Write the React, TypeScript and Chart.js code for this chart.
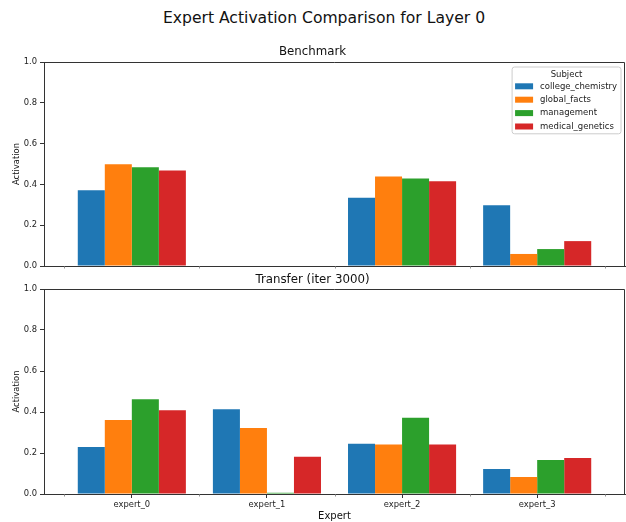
import React, { useEffect, useRef } from "react";
import { Chart, registerables } from "chart.js";

Chart.register(...registerables);

const experts = ["expert_0", "expert_1", "expert_2", "expert_3"];
const subjects = ["college_chemistry", "global_facts", "management", "medical_genetics"];
const subjectColors = ["#1f77b4", "#ff7f0e", "#2ca02c", "#d62728"];

// Benchmark activations, one array per subject (index = expert)
const benchCollegeChemistry = [0.371, 0.0, 0.335, 0.298];
const benchGlobalFacts = [0.499, 0.0, 0.439, 0.059];
const benchManagement = [0.484, 0.0, 0.429, 0.083];
const benchMedicalGenetics = [0.468, 0.0, 0.415, 0.122];

// Transfer (iter 3000) activations
const transferCollegeChemistry = [0.229, 0.413, 0.245, 0.122];
const transferGlobalFacts = [0.361, 0.322, 0.241, 0.083];
const transferManagement = [0.462, 0.006, 0.372, 0.166];
const transferMedicalGenetics = [0.408, 0.182, 0.241, 0.176];

const yTicks = [0, 0.2, 0.4, 0.6, 0.8, 1.0];

const FONT = "'DejaVu Sans', sans-serif";
const AXIS = "#333333";

const benchSeries = [benchCollegeChemistry, benchGlobalFacts, benchManagement, benchMedicalGenetics];
const transferSeries = [transferCollegeChemistry, transferGlobalFacts, transferManagement, transferMedicalGenetics];

function buildDatasets(series: number[][]) {
  return series.map((vals, si) => ({
    label: subjects[si],
    data: vals.map((v, i) => ({ x: i, y: v })),
    backgroundColor: subjectColors[si],
    borderWidth: 0,
    categoryPercentage: 0.8,
    barPercentage: 1.0,
  }));
}

// top/right spines plus minor ticks between expert groups
const framePlugin = {
  id: "frame",
  afterDraw(chart: any) {
    const { ctx, chartArea } = chart;
    const xs = chart.scales.x;
    ctx.save();
    ctx.strokeStyle = AXIS;
    ctx.lineWidth = 1;
    ctx.beginPath();
    ctx.moveTo(chartArea.left, chartArea.top + 0.5);
    ctx.lineTo(chartArea.right - 0.5, chartArea.top + 0.5);
    ctx.lineTo(chartArea.right - 0.5, chartArea.bottom);
    ctx.stroke();
    ctx.strokeStyle = "#777777";
    ctx.lineWidth = 0.8;
    for (let i = 0; i <= experts.length; i++) {
      const px = Math.round(xs.getPixelForValue(i - 0.5)) + 0.5;
      ctx.beginPath();
      ctx.moveTo(px, chartArea.bottom);
      ctx.lineTo(px, chartArea.bottom + 2.5);
      ctx.stroke();
    }
    ctx.restore();
  },
};

// boxed legend with "Subject" heading in the upper-right corner
const subjectLegendPlugin = {
  id: "subjectLegend",
  afterDraw(chart: any) {
    const { ctx, chartArea } = chart;
    const fontPx = 8.5;
    ctx.save();
    ctx.font = `${fontPx}px ${FONT}`;
    const labels = chart.data.datasets.map((d: any) => d.label as string);
    const textW = Math.max(...labels.map((l: string) => ctx.measureText(l).width));
    const swW = 18;
    const swH = 6;
    const padL = 3;
    const gap = 7;
    const padR = 4;
    const rowH = 13.4;
    const w = padL + swW + gap + textW + padR;
    const h = 7.6 + rowH * labels.length + 5.6;
    const right = chartArea.right - 4;
    const left = right - w;
    const top = chartArea.top + 5;
    const r = 2.5;
    ctx.beginPath();
    ctx.moveTo(left + r, top);
    ctx.lineTo(right - r, top);
    ctx.quadraticCurveTo(right, top, right, top + r);
    ctx.lineTo(right, top + h - r);
    ctx.quadraticCurveTo(right, top + h, right - r, top + h);
    ctx.lineTo(left + r, top + h);
    ctx.quadraticCurveTo(left, top + h, left, top + h - r);
    ctx.lineTo(left, top + r);
    ctx.quadraticCurveTo(left, top, left + r, top);
    ctx.closePath();
    ctx.fillStyle = "rgba(255,255,255,0.8)";
    ctx.fill();
    ctx.strokeStyle = "#cccccc";
    ctx.lineWidth = 1;
    ctx.stroke();

    ctx.fillStyle = "#222222";
    ctx.textBaseline = "middle";
    ctx.textAlign = "center";
    ctx.fillText("Subject", (left + right) / 2, top + 7.6);
    ctx.textAlign = "left";
    labels.forEach((l: string, i: number) => {
      const cy = top + 7.6 + rowH * (i + 1) - 1.7;
      ctx.fillStyle = chart.data.datasets[i].backgroundColor;
      ctx.fillRect(left + padL, cy - swH / 2, swW, swH);
      ctx.fillStyle = "#222222";
      ctx.fillText(l, left + padL + swW + gap, cy);
    });
    ctx.restore();
  },
};

function makeOptions(
  title: string,
  bottomPanel: boolean,
  topPad: number,
  titleBottom: number,
  xAxisHeight: number
): any {
  return {
    responsive: false,
    animation: false,
    layout: { padding: { top: topPad, right: 1, bottom: 0, left: 0 } },
    plugins: {
      legend: { display: false },
      tooltip: { enabled: false },
      title: {
        display: true,
        text: title,
        color: "#111111",
        font: { family: FONT, size: 11.8, weight: "normal", lineHeight: 1 },
        padding: { top: 0, bottom: titleBottom },
      },
    },
    scales: {
      x: {
        type: "linear",
        min: -0.65,
        max: 3.65,
        offset: false,
        afterBuildTicks: (scale: any) => {
          scale.ticks = experts.map((_, i) => ({ value: i }));
        },
        afterFit: (scale: any) => {
          scale.height = xAxisHeight;
        },
        grid: {
          offset: false,
          drawOnChartArea: false,
          drawTicks: bottomPanel,
          tickLength: 4,
          tickColor: AXIS,
        },
        border: { display: true, color: AXIS, width: 1 },
        ticks: {
          display: bottomPanel,
          autoSkip: false,
          maxRotation: 0,
          padding: 2,
          color: "#222222",
          font: { family: FONT, size: 8.4 },
          callback: (v: any) => experts[Math.round(Number(v))] ?? "",
        },
        title: {
          display: bottomPanel,
          text: "Expert",
          color: "#111111",
          font: { family: FONT, size: 10 },
          padding: { top: 0, bottom: 0 },
        },
      },
      y: {
        type: "linear",
        min: 0,
        max: 1,
        afterBuildTicks: (scale: any) => {
          scale.ticks = yTicks.map((v) => ({ value: v }));
        },
        afterFit: (scale: any) => {
          scale.width = 44;
        },
        grid: {
          drawOnChartArea: false,
          drawTicks: true,
          tickLength: 4,
          tickColor: AXIS,
        },
        border: { display: true, color: AXIS, width: 1 },
        ticks: {
          padding: 3,
          color: "#222222",
          font: { family: FONT, size: 8.4 },
          callback: (v: any) => Number(v).toFixed(1),
        },
        title: {
          display: true,
          text: "Activation",
          color: "#111111",
          font: { family: FONT, size: 8.4, lineHeight: 1.2 },
          padding: { top: 11.5, bottom: 0 },
        },
      },
    },
  };
}

export default function App() {
  const topRef = useRef<HTMLCanvasElement>(null);
  const bottomRef = useRef<HTMLCanvasElement>(null);

  useEffect(() => {
    document.body.style.margin = "0";
    const top = new Chart(topRef.current as HTMLCanvasElement, {
      type: "bar",
      data: { datasets: buildDatasets(benchSeries) as any },
      options: makeOptions("Benchmark", false, 45.8, 4.4, 10),
      plugins: [framePlugin, subjectLegendPlugin],
    });
    const bottom = new Chart(bottomRef.current as HTMLCanvasElement, {
      type: "bar",
      data: { datasets: buildDatasets(transferSeries) as any },
      options: makeOptions("Transfer (iter 3000)", true, 2, 3.2, 28),
      plugins: [framePlugin],
    });
    return () => {
      top.destroy();
      bottom.destroy();
    };
  }, []);

  return (
    <div style={{ position: "absolute", left: 0, top: 0, width: 626, height: 522, background: "#ffffff" }}>
      <div
        style={{
          position: "absolute",
          left: 0,
          top: 9,
          width: 648,
          textAlign: "center",
          fontFamily: FONT,
          fontSize: 15.6,
          lineHeight: "18px",
          color: "#111111",
        }}
      >
        Expert Activation Comparison for Layer 0
      </div>
      <canvas
        ref={topRef}
        width={626}
        height={276}
        style={{ position: "absolute", left: 0, top: 0, width: 626, height: 276 }}
      />
      <canvas
        ref={bottomRef}
        width={626}
        height={250}
        style={{ position: "absolute", left: 0, top: 272, width: 626, height: 250 }}
      />
    </div>
  );
}
